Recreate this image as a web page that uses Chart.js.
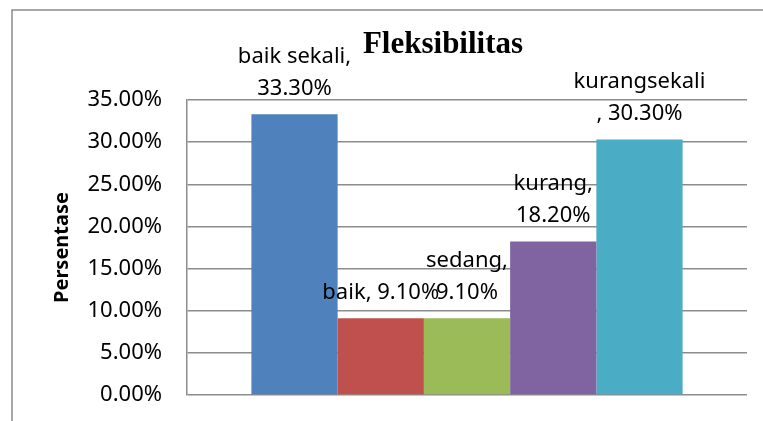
<!DOCTYPE html>
<html>
<head>
<meta charset="utf-8">
<script src="https://cdn.jsdelivr.net/npm/chart.js@4/dist/chart.umd.min.js"></script>
<style>
  html, body { margin: 0; padding: 0; background: #fff; }
  #chart { display: block; }
</style>
</head>
<body>
<canvas id="chart" width="763" height="421"></canvas>
<script>
// data
const chartTitle = 'Fleksibilitas';
const axisTitle = 'Persentase';
const categories = ['baik sekali', 'baik', 'sedang', 'kurang', 'kurangsekali'];
const values = [33.3, 9.1, 9.1, 18.2, 30.3];
const colors = ['#4F81BD', '#C0504D', '#9BBB59', '#8064A2', '#4BACC6'];
// how each label wraps: 0 = one line, 1 = break after the comma, 2 = break before the comma
const labelWrap = [1, 0, 1, 1, 2];

const fmt = v => v.toFixed(2) + '%';

function labelLines(i) {
    const name = categories[i], val = fmt(values[i]);
    if (labelWrap[i] === 1) return [name + ',', val];
    if (labelWrap[i] === 2) return [name, ', ' + val];
    return [name + ', ' + val];
}

// frame + title + value labels
const extras = {
    id: 'extras',
    beforeDraw(chart) {
        const ctx = chart.ctx;
        ctx.save();
        ctx.strokeStyle = '#8a8a8a';
        ctx.lineWidth = 1.5;
        ctx.beginPath();
        ctx.moveTo(12, chart.height);
        ctx.lineTo(12, 10);
        ctx.lineTo(chart.width, 10);
        ctx.stroke();
        ctx.restore();
    },
    afterDraw(chart) {
        const ctx = chart.ctx;
        ctx.save();
        ctx.fillStyle = '#000';
        ctx.font = 'bold 31px "Liberation Serif", "Times New Roman", serif';
        ctx.textAlign = 'center';
        ctx.textBaseline = 'alphabetic';
        ctx.fillText(chartTitle, 443, 53);

        ctx.font = '22px "Noto Sans", sans-serif';
        ctx.textBaseline = 'middle';
        chart.data.datasets.forEach((ds, i) => {
            const bar = chart.getDatasetMeta(i).data[0];
            const lines = labelLines(i);
            const lh = 32;
            lines.forEach((t, k) => {
                const y = bar.y - 26 - (lines.length - 1 - k) * lh;
                ctx.fillText(t, bar.x, y);
            });
        });
        ctx.restore();
    }
};

Chart.defaults.color = '#000';

new Chart(document.getElementById('chart'), {
    type: 'bar',
    data: {
        labels: [''],
        datasets: categories.map((c, i) => ({
            label: c,
            data: [values[i]],
            backgroundColor: colors[i],
            borderWidth: 0,
            barPercentage: 1,
            categoryPercentage: 0.77
        }))
    },
    options: {
        responsive: false,
        animation: false,
        layout: { padding: { top: 100, right: 16, bottom: 26, left: 0 } },
        plugins: {
            legend: { display: false },
            title: { display: false },
            tooltip: { enabled: false }
        },
        scales: {
            x: { display: false },
            y: {
                min: 0,
                max: 35,
                ticks: {
                    stepSize: 5,
                    padding: 25,
                    font: { family: '"Noto Sans", sans-serif', size: 22 },
                    callback: v => fmt(v)
                },
                grid: { color: '#8c8c8c', lineWidth: 1.5, drawTicks: false },
                border: { color: '#8c8c8c', width: 1.5 },
                title: {
                    display: true,
                    text: axisTitle,
                    font: { family: '"Noto Sans", sans-serif', size: 20, weight: 'bold' },
                    padding: { top: 50, bottom: 0 }
                },
                afterFit(scale) {
                    scale.width = 187;
                    scale.paddingTop = 0;
                    scale.paddingBottom = 0;
                }
            }
        }
    },
    plugins: [extras]
});
</script>
</body>
</html>
